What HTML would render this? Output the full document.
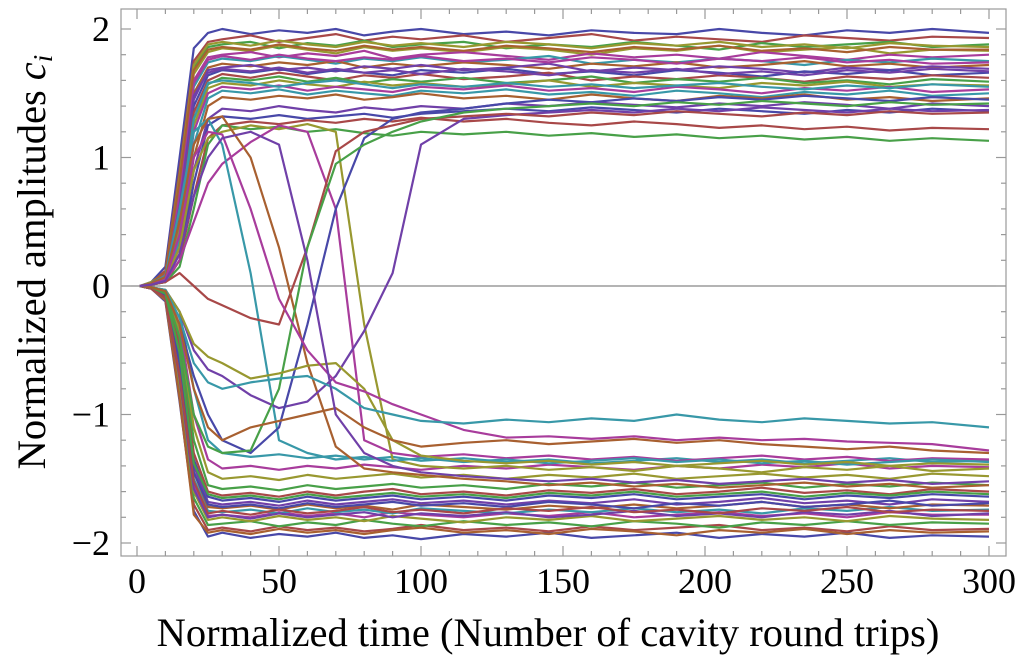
<!DOCTYPE html>
<html><head><meta charset="utf-8"><style>
html,body{margin:0;padding:0;background:#fff;}
svg{display:block;font-family:"Liberation Serif",serif;}
</style></head><body>
<svg id="chart" width="1024" height="666" viewBox="0 0 1024 666">
<g id="plot"></g>
<g id="axes"></g>
<text x="548" y="646" font-size="40.5" text-anchor="middle">Normalized time (Number of cavity round trips)</text>
<text transform="translate(45,262) rotate(-90)" font-size="40.5" text-anchor="middle">Normalized amplitudes <tspan font-style="italic">c</tspan><tspan font-style="italic" font-size="27" dy="7">i</tspan></text>
</svg>
<script>
const times=[1,5,10,15,20,25,30,40,50,60,70,80,90,100,115,130,145,160,175,190,205,220,235,250,265,280,300];
const upper=[
[0,0.03,0.15,1.0,1.85,1.97,2.0,1.96,1.99,1.97,2.0,1.95,1.98,2.0,1.96,1.98,1.95,1.99,1.97,1.96,2.0,1.97,1.95,1.99,1.97,2.0,1.97],
[0,0.02,0.12,0.9,1.75,1.9,1.92,1.95,1.9,1.93,1.96,1.91,1.94,1.92,1.95,1.9,1.93,1.96,1.91,1.94,1.92,1.9,1.95,1.93,1.91,1.94,1.93],
[0,0.02,0.1,0.85,1.7,1.86,1.88,1.9,1.85,1.89,1.87,1.91,1.86,1.88,1.9,1.85,1.88,1.86,1.9,1.87,1.84,1.89,1.86,1.88,1.9,1.86,1.88],
[0,0.03,0.1,0.8,1.65,1.82,1.85,1.83,1.87,1.84,1.81,1.86,1.83,1.85,1.82,1.86,1.84,1.8,1.85,1.83,1.87,1.82,1.84,1.86,1.81,1.84,1.83],
[0,0.01,0.09,0.75,1.6,1.78,1.8,1.82,1.78,1.81,1.79,1.83,1.77,1.8,1.82,1.79,1.76,1.81,1.78,1.8,1.77,1.82,1.79,1.76,1.8,1.78,1.8],
[0,0.02,0.1,0.7,1.55,1.74,1.77,1.75,1.79,1.76,1.73,1.77,1.75,1.78,1.74,1.76,1.79,1.73,1.76,1.74,1.77,1.75,1.72,1.76,1.74,1.77,1.75],
[0,0.02,0.08,0.65,1.5,1.7,1.73,1.71,1.74,1.72,1.75,1.7,1.73,1.71,1.74,1.72,1.69,1.73,1.71,1.74,1.7,1.72,1.75,1.71,1.73,1.7,1.72],
[0,0.01,0.07,0.6,1.45,1.68,1.7,1.72,1.68,1.7,1.67,1.71,1.69,1.72,1.68,1.7,1.73,1.67,1.7,1.68,1.71,1.69,1.66,1.7,1.68,1.71,1.69],
[0,0.02,0.08,0.6,1.4,1.64,1.68,1.66,1.69,1.65,1.68,1.66,1.64,1.68,1.66,1.69,1.65,1.67,1.64,1.68,1.66,1.63,1.67,1.65,1.68,1.64,1.66],
[0,0.01,0.06,0.55,1.35,1.6,1.65,1.62,1.66,1.63,1.6,1.64,1.62,1.65,1.61,1.63,1.66,1.6,1.63,1.61,1.64,1.62,1.59,1.63,1.61,1.64,1.62],
[0,0.02,0.07,0.5,1.3,1.57,1.62,1.6,1.63,1.59,1.62,1.58,1.61,1.59,1.62,1.58,1.6,1.63,1.58,1.61,1.59,1.62,1.58,1.6,1.57,1.61,1.59],
[0,0.01,0.05,0.45,1.25,1.54,1.58,1.56,1.6,1.57,1.55,1.59,1.56,1.58,1.55,1.57,1.6,1.55,1.58,1.56,1.54,1.58,1.56,1.59,1.55,1.57,1.56],
[0,0.02,0.06,0.4,1.2,1.5,1.55,1.53,1.56,1.52,1.55,1.53,1.51,1.55,1.53,1.56,1.52,1.54,1.51,1.55,1.53,1.5,1.54,1.52,1.55,1.51,1.53],
[0,0.01,0.05,0.35,1.1,1.46,1.52,1.5,1.53,1.49,1.52,1.5,1.48,1.52,1.5,1.53,1.49,1.51,1.48,1.52,1.5,1.47,1.51,1.49,1.52,1.48,1.5],
[0,0.01,0.04,0.3,1.0,1.4,1.47,1.45,1.48,1.46,1.49,1.45,1.47,1.5,1.46,1.48,1.45,1.49,1.46,1.44,1.48,1.46,1.49,1.45,1.47,1.44,1.46],
[0,0.01,0.04,0.25,0.9,1.3,1.38,1.36,1.4,1.37,1.35,1.39,1.37,1.4,1.38,1.42,1.4,1.43,1.41,1.39,1.42,1.4,1.43,1.41,1.38,1.42,1.4],
[0,0.01,0.03,0.2,0.8,1.25,1.32,1.3,1.33,1.3,1.32,1.34,1.31,1.34,1.36,1.38,1.36,1.39,1.37,1.35,1.38,1.36,1.34,1.37,1.35,1.38,1.36],
[0,0.01,0.03,0.2,0.7,1.15,1.25,1.28,1.26,1.29,1.27,1.3,1.28,1.31,1.28,1.3,1.27,1.25,1.28,1.26,1.23,1.25,1.22,1.24,1.21,1.23,1.22],
[0,0.01,0.03,0.15,0.6,1.1,1.25,1.22,1.24,1.2,1.22,1.19,1.17,1.2,1.18,1.2,1.17,1.19,1.16,1.18,1.15,1.17,1.14,1.16,1.13,1.15,1.13],
[0,0.02,0.1,0.85,1.72,1.88,1.9,1.87,1.91,1.88,1.86,1.9,1.87,1.89,1.86,1.9,1.88,1.85,1.89,1.87,1.9,1.86,1.88,1.85,1.89,1.87,1.86],
[0,0.02,0.09,0.7,1.58,1.76,1.79,1.76,1.8,1.77,1.75,1.78,1.76,1.79,1.75,1.77,1.74,1.78,1.76,1.73,1.77,1.75,1.78,1.74,1.76,1.73,1.74],
[0,0.01,0.06,0.5,1.3,1.58,1.6,1.58,1.55,1.58,1.6,1.57,1.54,1.57,1.55,1.58,1.55,1.57,1.54,1.56,1.58,1.55,1.53,1.56,1.54,1.57,1.55],
[0,0.02,0.11,0.82,1.68,1.84,1.86,1.84,1.88,1.85,1.83,1.87,1.84,1.86,1.83,1.87,1.85,1.82,1.86,1.84,1.87,1.83,1.85,1.82,1.86,1.84,1.84],
[0,0.02,0.08,0.62,1.48,1.66,1.69,1.67,1.7,1.66,1.69,1.66,1.68,1.65,1.69,1.67,1.64,1.68,1.66,1.69,1.65,1.67,1.64,1.68,1.66,1.69,1.67]
];
const lower=[
[0,-0.02,-0.12,-0.9,-1.75,-1.95,-1.92,-1.96,-1.93,-1.95,-1.92,-1.96,-1.94,-1.97,-1.93,-1.95,-1.92,-1.96,-1.94,-1.92,-1.96,-1.93,-1.95,-1.92,-1.96,-1.94,-1.95],
[0,-0.02,-0.1,-0.85,-1.7,-1.9,-1.88,-1.91,-1.87,-1.9,-1.88,-1.91,-1.89,-1.86,-1.9,-1.88,-1.91,-1.87,-1.9,-1.88,-1.86,-1.9,-1.88,-1.91,-1.87,-1.9,-1.89],
[0,-0.02,-0.1,-0.8,-1.65,-1.86,-1.85,-1.83,-1.87,-1.84,-1.86,-1.82,-1.85,-1.87,-1.83,-1.86,-1.84,-1.87,-1.83,-1.85,-1.88,-1.84,-1.86,-1.83,-1.86,-1.84,-1.85],
[0,-0.01,-0.09,-0.75,-1.6,-1.82,-1.8,-1.83,-1.79,-1.82,-1.8,-1.83,-1.79,-1.81,-1.84,-1.8,-1.82,-1.79,-1.83,-1.81,-1.79,-1.82,-1.8,-1.83,-1.79,-1.81,-1.82],
[0,-0.02,-0.08,-0.7,-1.55,-1.79,-1.78,-1.8,-1.76,-1.79,-1.77,-1.8,-1.76,-1.78,-1.8,-1.77,-1.79,-1.76,-1.8,-1.78,-1.76,-1.79,-1.77,-1.8,-1.76,-1.78,-1.78],
[0,-0.01,-0.08,-0.65,-1.5,-1.75,-1.76,-1.74,-1.77,-1.73,-1.76,-1.74,-1.77,-1.73,-1.75,-1.77,-1.74,-1.76,-1.73,-1.76,-1.74,-1.77,-1.73,-1.75,-1.72,-1.75,-1.74],
[0,-0.02,-0.07,-0.6,-1.45,-1.72,-1.73,-1.71,-1.74,-1.7,-1.73,-1.71,-1.74,-1.7,-1.72,-1.74,-1.71,-1.73,-1.7,-1.73,-1.71,-1.68,-1.72,-1.7,-1.73,-1.7,-1.71],
[0,-0.01,-0.06,-0.55,-1.4,-1.68,-1.7,-1.68,-1.71,-1.67,-1.7,-1.68,-1.66,-1.69,-1.67,-1.7,-1.67,-1.69,-1.66,-1.7,-1.68,-1.65,-1.69,-1.67,-1.7,-1.66,-1.68],
[0,-0.02,-0.06,-0.5,-1.35,-1.64,-1.67,-1.65,-1.68,-1.64,-1.67,-1.65,-1.63,-1.66,-1.64,-1.67,-1.63,-1.65,-1.62,-1.66,-1.64,-1.62,-1.66,-1.63,-1.65,-1.62,-1.64],
[0,-0.01,-0.05,-0.45,-1.3,-1.6,-1.63,-1.61,-1.64,-1.6,-1.63,-1.6,-1.58,-1.62,-1.6,-1.63,-1.59,-1.61,-1.58,-1.62,-1.6,-1.57,-1.61,-1.59,-1.62,-1.58,-1.6],
[0,-0.01,-0.05,-0.4,-1.2,-1.55,-1.58,-1.56,-1.59,-1.55,-1.58,-1.56,-1.54,-1.57,-1.55,-1.58,-1.54,-1.56,-1.53,-1.57,-1.55,-1.53,-1.57,-1.54,-1.56,-1.53,-1.55],
[0,-0.01,-0.04,-0.35,-1.1,-1.45,-1.5,-1.48,-1.51,-1.47,-1.5,-1.48,-1.46,-1.49,-1.47,-1.5,-1.47,-1.49,-1.46,-1.5,-1.48,-1.46,-1.49,-1.47,-1.5,-1.46,-1.48],
[0,-0.01,-0.04,-0.3,-1.0,-1.35,-1.42,-1.4,-1.43,-1.4,-1.42,-1.39,-1.41,-1.43,-1.4,-1.42,-1.39,-1.41,-1.43,-1.4,-1.42,-1.39,-1.41,-1.38,-1.42,-1.4,-1.41],
[0,-0.01,-0.03,-0.2,-0.8,-1.2,-1.3,-1.33,-1.31,-1.34,-1.32,-1.35,-1.33,-1.36,-1.34,-1.37,-1.35,-1.38,-1.36,-1.34,-1.37,-1.35,-1.38,-1.36,-1.34,-1.37,-1.36],
[0,-0.02,-0.11,-0.88,-1.78,-1.92,-1.9,-1.93,-1.89,-1.92,-1.9,-1.93,-1.9,-1.88,-1.92,-1.9,-1.93,-1.89,-1.91,-1.94,-1.9,-1.92,-1.89,-1.93,-1.9,-1.92,-1.91],
[0,-0.02,-0.09,-0.72,-1.58,-1.8,-1.78,-1.81,-1.77,-1.8,-1.78,-1.76,-1.8,-1.77,-1.79,-1.76,-1.8,-1.78,-1.75,-1.79,-1.77,-1.8,-1.76,-1.78,-1.75,-1.79,-1.77],
[0,-0.01,-0.07,-0.6,-1.45,-1.7,-1.72,-1.7,-1.73,-1.69,-1.72,-1.7,-1.68,-1.71,-1.69,-1.72,-1.68,-1.7,-1.73,-1.69,-1.71,-1.68,-1.72,-1.7,-1.67,-1.71,-1.69],
[0,-0.02,-0.09,-0.7,-1.52,-1.77,-1.75,-1.78,-1.74,-1.77,-1.75,-1.72,-1.76,-1.74,-1.77,-1.73,-1.75,-1.72,-1.76,-1.74,-1.77,-1.73,-1.75,-1.72,-1.76,-1.74,-1.75],
[0,-0.01,-0.06,-0.52,-1.38,-1.62,-1.65,-1.63,-1.66,-1.62,-1.65,-1.63,-1.61,-1.64,-1.62,-1.65,-1.61,-1.63,-1.6,-1.64,-1.62,-1.6,-1.64,-1.61,-1.63,-1.6,-1.62]
];
const crossers=[
[0,0.01,0.05,0.3,0.9,1.15,1.2,1.25,1.22,1.26,1.2,-0.3,-1.35,-1.4,-1.42,-1.4,-1.43,-1.41,-1.44,-1.4,-1.42,-1.45,-1.41,-1.43,-1.4,-1.44,-1.42],
[0,0.01,0.04,0.2,0.5,0.8,0.95,1.12,1.25,1.2,0.6,-1.2,-1.3,-1.33,-1.31,-1.34,-1.32,-1.35,-1.33,-1.36,-1.34,-1.32,-1.35,-1.33,-1.36,-1.34,-1.35],
[0,0.02,0.08,0.6,1.2,1.3,1.1,0.1,-1.2,-1.3,-1.35,-1.33,-1.36,-1.34,-1.37,-1.35,-1.38,-1.36,-1.34,-1.37,-1.35,-1.38,-1.36,-1.39,-1.37,-1.35,-1.37],
[0,0.02,0.07,0.5,1.1,1.3,1.32,1.0,0.3,-0.6,-1.25,-1.42,-1.45,-1.47,-1.5,-1.52,-1.55,-1.53,-1.56,-1.54,-1.57,-1.55,-1.53,-1.56,-1.54,-1.57,-1.55],
[0,-0.01,-0.03,-0.2,-0.5,-0.65,-0.7,-0.85,-0.95,-0.9,-0.7,-0.35,0.1,1.1,1.3,1.33,1.35,1.37,1.35,1.38,1.36,1.39,1.37,1.35,1.38,1.36,1.37],
[0,-0.01,-0.04,-0.3,-0.7,-1.0,-1.2,-1.3,-1.1,-0.3,0.6,1.15,1.3,1.35,1.38,1.42,1.45,1.43,1.46,1.44,1.47,1.45,1.48,1.46,1.44,1.47,1.45],
[0,0.01,0.03,0.1,0.0,-0.1,-0.15,-0.25,-0.3,0.3,1.05,1.2,1.25,1.3,1.32,1.34,1.32,1.35,1.33,1.36,1.34,1.32,1.35,1.33,1.36,1.34,1.35],
[0,-0.01,-0.05,-0.4,-1.0,-1.25,-1.3,-1.28,-0.8,0.3,0.95,1.1,1.2,1.28,1.35,1.38,1.4,1.42,1.4,1.43,1.41,1.44,1.42,1.4,1.43,1.41,1.42],
[0,-0.01,-0.03,-0.2,-0.45,-0.55,-0.6,-0.72,-0.68,-0.62,-0.6,-0.8,-1.2,-1.32,-1.36,-1.38,-1.36,-1.39,-1.37,-1.4,-1.38,-1.36,-1.39,-1.37,-1.4,-1.38,-1.39],
[0,0.01,0.05,0.4,1.0,1.2,1.18,0.6,-0.1,-0.5,-0.75,-0.82,-0.92,-1.0,-1.12,-1.18,-1.17,-1.19,-1.17,-1.2,-1.18,-1.2,-1.19,-1.21,-1.22,-1.23,-1.28],
[0,-0.01,-0.03,-0.25,-0.6,-0.75,-0.8,-0.75,-0.72,-0.7,-0.8,-0.95,-1.0,-1.05,-1.07,-1.04,-1.06,-1.03,-1.05,-1.0,-1.04,-1.06,-1.03,-1.05,-1.07,-1.06,-1.1],
[0,-0.01,-0.04,-0.3,-0.8,-1.1,-1.2,-1.1,-1.05,-1.0,-0.95,-1.1,-1.2,-1.25,-1.22,-1.2,-1.23,-1.21,-1.19,-1.22,-1.2,-1.23,-1.25,-1.27,-1.25,-1.28,-1.3],
[0,0.01,0.04,0.25,0.7,1.0,1.15,1.2,1.1,0.2,-1.0,-1.3,-1.4,-1.45,-1.48,-1.5,-1.52,-1.5,-1.53,-1.51,-1.54,-1.52,-1.5,-1.53,-1.51,-1.54,-1.52]
];
const xTicks=[0,50,100,150,200,250,300];
const yTicks=[-2,-1,0,1,2];
const palette=["#4848a8","#a84848","#48a048","#989830","#a83c9c","#3898a8","#a86030","#7040a8"];

const X0=137,X1=989,Y2=29,Ym2=543;
function sx(t){return X0+(t/300)*(X1-X0);}
function sy(v){return Y2+(2-v)/4*(Ym2-Y2);}
const NS="http://www.w3.org/2000/svg";
const plot=document.getElementById('plot');
const axes=document.getElementById('axes');

const zl=document.createElementNS(NS,'line');
zl.setAttribute('x1',121);zl.setAttribute('x2',1006);zl.setAttribute('y1',sy(0));zl.setAttribute('y2',sy(0));
zl.setAttribute('stroke','#888');zl.setAttribute('stroke-width','1.2');


plot.appendChild(zl);

let ci=0;
function drawGroup(group,name){
  group.forEach((vals,i)=>{
    const p=document.createElementNS(NS,'polyline');
    p.setAttribute('points',vals.map((v,k)=>sx(times[k]).toFixed(1)+','+sy(v).toFixed(1)).join(' '));
    p.setAttribute('fill','none');
    p.setAttribute('stroke',palette[ci%palette.length]);ci++;
    p.setAttribute('stroke-width','2.2');
    p.setAttribute('stroke-linejoin','round');
    
    
    plot.appendChild(p);
  });
}
drawGroup(upper,'upper');
drawGroup(lower,'lower');
drawGroup(crossers,'crossing');

const fr=document.createElementNS(NS,'rect');
fr.setAttribute('x',121);fr.setAttribute('y',9);fr.setAttribute('width',885);fr.setAttribute('height',547);
fr.setAttribute('fill','none');fr.setAttribute('stroke','#999');fr.setAttribute('stroke-width','1.2');


axes.appendChild(fr);

function tick(x1,y1,x2,y2){
  const l=document.createElementNS(NS,'line');
  l.setAttribute('x1',x1);l.setAttribute('y1',y1);l.setAttribute('x2',x2);l.setAttribute('y2',y2);
  l.setAttribute('stroke','#999');l.setAttribute('stroke-width','1.2');
  
  
  axes.appendChild(l);
}
for(let t=0;t<=300;t+=10){
  const len=(t%50===0)?10:5,x=sx(t);
  tick(x,556,x,556-len);tick(x,9,x,9+len);
}
for(let k=-10;k<=10;k++){
  const v=k/5;if(v<-2.05||v>2.1)continue;
  const len=(k%5===0)?10:5,y=sy(v);
  tick(121,y,121+len,y);tick(1006,y,1006-len,y);
}
xTicks.forEach(t=>{
  const tx=document.createElementNS(NS,'text');
  tx.setAttribute('x',sx(t));tx.setAttribute('y',593);tx.setAttribute('font-size','36');tx.setAttribute('text-anchor','middle');
  tx.textContent=t;
  
  
  axes.appendChild(tx);
});
yTicks.forEach(v=>{
  const tx=document.createElementNS(NS,'text');
  tx.setAttribute('x',110);tx.setAttribute('y',sy(v)+12);tx.setAttribute('font-size','36');tx.setAttribute('text-anchor','end');
  tx.textContent=v<0?'\u2212'+Math.abs(v):String(v);
  
  
  axes.appendChild(tx);
});
</script>
</body></html>
